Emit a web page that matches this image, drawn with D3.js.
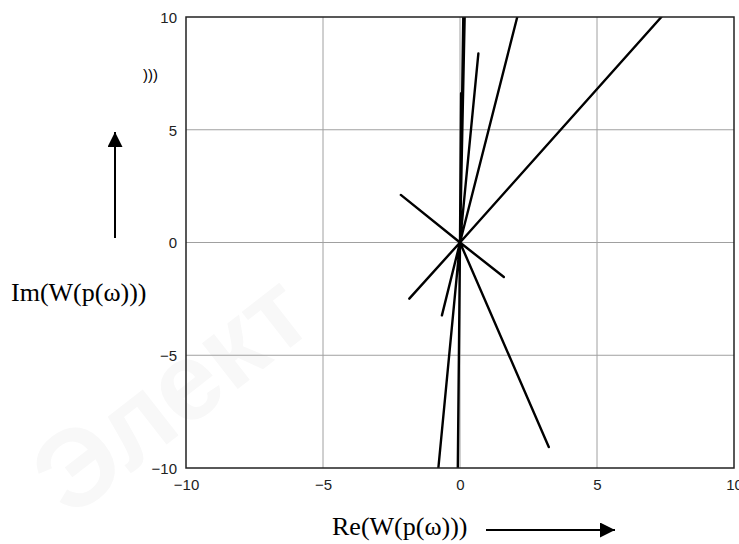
<script src="https://cdnjs.cloudflare.com/ajax/libs/d3/7.8.5/d3.min.js"></script>
<style>
  body { margin: 0; background: #fff; }
  svg { display: block; }
  .tick text { font-family: "Liberation Sans", Arial, sans-serif; font-size: 15px; fill: #222; }
  .lbl { font-family: "Liberation Serif", "Times New Roman", serif; font-size: 26px; fill: #000; }
</style>
<svg width="739" height="544"></svg>
<script>
  // trace of the hodograph: it leaves the origin, reaches a point and comes back
  var re = [0, 0.12, 0, 0.17, 0, 0.04, 0, 0.67, 0, 2.09, 0, 7.35, 0, -2.16, 0, 1.60, 0, -1.85, 0, -0.66, 0, 3.24, 0, -0.79, 0, -0.08, 0];
  var im = [0, 10, 0, 10, 0, 6.62, 0, 8.38, 0, 10, 0, 10, 0, 2.11, 0, -1.53, 0, -2.49, 0, -3.23, 0, -9.07, 0, -10, 0, -10, 0];
  var xTicks = [-10, -5, 0, 5, 10],
      yTicks = [-10, -5, 0, 5, 10];

  var svg = d3.select("svg");
  var pLeft = 186, pRight = 734, pTop = 17, pBottom = 468;

  var x = d3.scaleLinear().domain([-10, 10]).range([pLeft, pRight]);
  var y = d3.scaleLinear().domain([-10, 10]).range([pBottom, pTop]);

  var fmt = function(d){ return d < 0 ? "\u2212" + Math.abs(d) : "" + d; };

  // watermark, very faint
  svg.append("text")
    .attr("transform", "translate(70,520) rotate(-38)")
    .style("font-family", "Liberation Sans, sans-serif")
    .style("font-size", "110px")
    .style("font-weight", "bold")
    .style("fill", "#f8f8f8")
    .text("Элект");

  // grid
  svg.append("g").selectAll("line")
    .data(xTicks.filter(function(d){ return d > -10 && d < 10; }))
    .enter().append("line")
    .attr("x1", function(d){ return x(d); }).attr("x2", function(d){ return x(d); })
    .attr("y1", pTop).attr("y2", pBottom)
    .attr("stroke", "#a0a0a0").attr("stroke-width", 1);
  svg.append("g").selectAll("line")
    .data(yTicks.filter(function(d){ return d > -10 && d < 10; }))
    .enter().append("line")
    .attr("y1", function(d){ return y(d); }).attr("y2", function(d){ return y(d); })
    .attr("x1", pLeft).attr("x2", pRight)
    .attr("stroke", "#a0a0a0").attr("stroke-width", 1);

  // axes (labels only, frame drawn below)
  var xAxis = d3.axisBottom(x).tickValues(xTicks).tickSize(0).tickPadding(8).tickFormat(fmt);
  var yAxis = d3.axisLeft(y).tickValues(yTicks).tickSize(0).tickPadding(9).tickFormat(fmt);
  var gx = svg.append("g").attr("transform", "translate(0," + pBottom + ")").call(xAxis);
  var gy = svg.append("g").attr("transform", "translate(" + pLeft + ",0)").call(yAxis);
  gx.select(".domain").remove();
  gy.select(".domain").remove();
  gx.selectAll("text").attr("dy", "0.9em");
  gy.selectAll("text").attr("dy", "0.35em");

  // curve
  svg.append("clipPath").attr("id", "clip")
    .append("rect").attr("x", pLeft).attr("y", pTop).attr("width", pRight - pLeft).attr("height", pBottom - pTop);

  var line = d3.line()
    .x(function(d){ return x(d[0]); })
    .y(function(d){ return y(d[1]); });

  svg.append("path")
    .datum(d3.zip(re, im))
    .attr("clip-path", "url(#clip)")
    .attr("d", line)
    .attr("fill", "none")
    .attr("stroke", "#000")
    .attr("stroke-width", 2.4)
    .attr("stroke-linejoin", "round");

  // frame
  svg.append("rect")
    .attr("x", pLeft).attr("y", pTop).attr("width", pRight - pLeft).attr("height", pBottom - pTop)
    .attr("fill", "none").attr("stroke", "#222").attr("stroke-width", 1.5);

  // leftover of a cropped label
  svg.append("text")
    .attr("x", 143).attr("y", 80)
    .style("font-family", "Liberation Sans, sans-serif").style("font-size", "15px")
    .text(")))");

  // axis titles with arrows
  svg.append("defs").append("marker")
    .attr("id", "arr").attr("viewBox", "0 0 10 10")
    .attr("refX", 10).attr("refY", 5)
    .attr("markerWidth", 15).attr("markerHeight", 15)
    .attr("markerUnits", "userSpaceOnUse")
    .attr("orient", "auto")
    .append("path").attr("d", "M0,0L10,5L0,10Z").attr("fill", "#000");

  svg.append("line")
    .attr("x1", 115).attr("y1", 238).attr("x2", 115).attr("y2", 132)
    .attr("stroke", "#000").attr("stroke-width", 2)
    .attr("marker-end", "url(#arr)");
  svg.append("text").attr("class", "lbl")
    .attr("x", 11).attr("y", 301)
    .text("Im(W(p(\u03c9)))");

  svg.append("line")
    .attr("x1", 486).attr("y1", 530).attr("x2", 615).attr("y2", 530)
    .attr("stroke", "#000").attr("stroke-width", 2)
    .attr("marker-end", "url(#arr)");
  svg.append("text").attr("class", "lbl")
    .attr("x", 332).attr("y", 535)
    .text("Re(W(p(\u03c9)))");
</script>
